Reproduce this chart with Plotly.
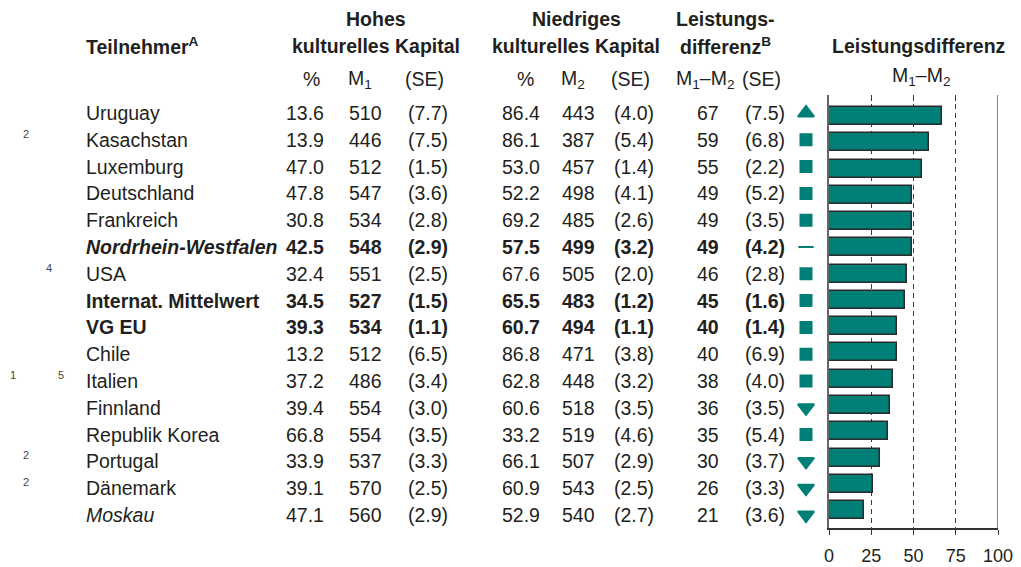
import plotly.graph_objects as go

# ---------------- data ----------------
names = ["Uruguay", "Kasachstan", "Luxemburg", "Deutschland", "Frankreich",
         "Nordrhein-Westfalen", "USA", "Internat. Mittelwert", "VG EU", "Chile",
         "Italien", "Finnland", "Republik Korea", "Portugal", "Dänemark", "Moskau"]
name_style = ["n", "n", "n", "n", "n", "bi", "n", "b", "b", "n",
              "n", "n", "n", "n", "n", "i"]
pct_high = [13.6, 13.9, 47.0, 47.8, 30.8, 42.5, 32.4, 34.5, 39.3, 13.2, 37.2, 39.4, 66.8, 33.9, 39.1, 47.1]
m1 = [510, 446, 512, 547, 534, 548, 551, 527, 534, 512, 486, 554, 554, 537, 570, 560]
se1 = [7.7, 7.5, 1.5, 3.6, 2.8, 2.9, 2.5, 1.5, 1.1, 6.5, 3.4, 3.0, 3.5, 3.3, 2.5, 2.9]
pct_low = [86.4, 86.1, 53.0, 52.2, 69.2, 57.5, 67.6, 65.5, 60.7, 86.8, 62.8, 60.6, 33.2, 66.1, 60.9, 52.9]
m2 = [443, 387, 457, 498, 485, 499, 505, 483, 494, 471, 448, 518, 519, 507, 543, 540]
se2 = [4.0, 5.4, 1.4, 4.1, 2.6, 3.2, 2.0, 1.2, 1.1, 3.8, 3.2, 3.5, 4.6, 2.9, 2.5, 2.7]
diff = [67, 59, 55, 49, 49, 49, 46, 45, 40, 40, 38, 36, 35, 30, 26, 21]
se_diff = [7.5, 6.8, 2.2, 5.2, 3.5, 4.2, 2.8, 1.6, 1.4, 6.9, 4.0, 3.5, 5.4, 3.7, 3.3, 3.6]
significance = ["up", "sq", "sq", "sq", "sq", "ref", "sq", "sq", "sq", "sq",
                "sq", "down", "sq", "down", "down", "down"]
# footnote marks (four slots left of the names)
fn_slot1 = ["", "", "", "", "", "", "", "", "", "", "1", "", "", "", "", ""]
fn_slot2 = ["", "2", "", "", "", "", "", "", "", "", "", "", "", "2", "2", ""]
fn_slot3 = ["", "", "", "", "", "", "4", "", "", "", "", "", "", "", "", ""]
fn_slot4 = ["", "", "", "", "", "", "", "", "", "", "5", "", "", "", "", ""]
axis_ticks = [0, 25, 50, 75, 100]

# ---------------- style ----------------
W, H = 1021, 567
FONT = "Liberation Sans, Arial, sans-serif"
TXT = "#231f20"
TEAL = "#007f77"
FS = 19.5

def px(x):
    return x / W

def py(y):
    return 1 - y / H

rows = list(range(len(names)))

fig = go.Figure()

# bars
fig.add_trace(go.Bar(
    x=diff, y=rows, orientation="h", width=0.685,
    marker=dict(color=TEAL, line=dict(color="#2a2a2a", width=1.5)),
    xaxis="x", yaxis="y", showlegend=False, hoverinfo="skip"))

# significance symbols
sym_map = {"up": "triangle-up", "down": "triangle-down", "sq": "square", "ref": "line-ew"}
size_map = {"up": 14, "down": 14, "sq": 11, "ref": 11}
fig.add_trace(go.Scatter(
    x=[0.5] * len(rows), y=rows, mode="markers",
    marker=dict(symbol=[sym_map[s] for s in significance],
                size=[size_map[s] for s in significance], opacity=1,
                color=TEAL, line=dict(color=TEAL, width=2)),
    xaxis="x3", yaxis="y2", showlegend=False, hoverinfo="skip"))

# top tick marks (overlay axis)
fig.add_trace(go.Scatter(x=[None], y=[None], xaxis="x2", yaxis="y", showlegend=False,
                         hoverinfo="skip"))

ann = []

def add_text(x, y, text, anchor="center", size=FS, yref="y2", yshift=0, color=TXT):
    ann.append(dict(x=x, y=y, xref="paper", yref=yref, text=text, showarrow=False,
                    xanchor=anchor, yanchor="middle", yshift=yshift,
                    font=dict(family=FONT, size=size, color=color)))

col_x = dict(name=84, p1=305, m1=365, s1=428, p2=521, m2=578, s2=634, d=708, sd=765)
fn_x = [13, 26, 49, 61]

for i in rows:
    st = name_style[i]
    nm = names[i]
    if st == "b":
        nm = "<b>" + nm + "</b>"
    elif st == "bi":
        nm = "<b><i>" + nm + "</i></b>"
    elif st == "i":
        nm = "<i>" + nm + "</i>"
    add_text(px(col_x["name"]), i, nm, anchor="left")
    bold = st in ("b", "bi")
    vals = [("p1", f"{pct_high[i]:.1f}"), ("m1", f"{m1[i]}"), ("s1", f"({se1[i]:.1f})"),
            ("p2", f"{pct_low[i]:.1f}"), ("m2", f"{m2[i]}"), ("s2", f"({se2[i]:.1f})"),
            ("d", f"{diff[i]}"), ("sd", f"({se_diff[i]:.1f})")]
    for key, v in vals:
        add_text(px(col_x[key]), i, "<b>" + v + "</b>" if bold else v)
    for slot, lst in enumerate([fn_slot1, fn_slot2, fn_slot3, fn_slot4]):
        if lst[i]:
            add_text(px(fn_x[slot]), i, lst[i], size=11, yshift=6, color="#444")

# headers (paper coords)
def hdr(x, y, text, anchor="center", size=FS):
    ann.append(dict(x=px(x), y=py(y), xref="paper", yref="paper", text=text,
                    showarrow=False, xanchor=anchor, yanchor="middle",
                    font=dict(family=FONT, size=size, color=TXT)))

hdr(84, 46, "<b>Teilnehmer<sup>A</sup></b>", anchor="left")
hdr(376, 19, "<b>Hohes</b>")
hdr(376, 46, "<b>kulturelles Kapital</b>")
hdr(311, 79, "%")
hdr(360, 79, "M<sub>1</sub>")
hdr(424, 79, "(SE)")
hdr(576, 19, "<b>Niedriges</b>")
hdr(576, 46, "<b>kulturelles Kapital</b>")
hdr(525, 79, "%")
hdr(573, 79, "M<sub>2</sub>")
hdr(630, 79, "(SE)")
hdr(725, 19, "<b>Leistungs-</b>")
hdr(725, 46, "<b>differenz<sup>B</sup></b>")
hdr(705, 79, "M<sub>1</sub>–M<sub>2</sub>")
hdr(761, 79, "(SE)")
hdr(919, 46, "<b>Leistungsdifferenz</b>")
hdr(921, 76, "M<sub>1</sub>–M<sub>2</sub>")

# pixel geometry of the bar panel
x_left, x_right = 829, 998
y_top, y_bot = 95, 528
row0, step = 116, 26.27
trow0, tstep = 113, 26.8

fig.update_layout(
    width=W, height=H,
    margin=dict(l=0, r=0, t=0, b=0, pad=0, autoexpand=False),
    paper_bgcolor="white", plot_bgcolor="white",
    showlegend=False,
    bargap=0,
    annotations=ann,
    shapes=[dict(type="line", xref="x", yref="y domain", x0=100, x1=100, y0=0, y1=1,
                 line=dict(color="#555", width=1.5), layer="above")],
    xaxis=dict(domain=[px(x_left), px(x_right)], range=[0, 100], anchor="y",
               tickvals=axis_ticks, ticks="outside", ticklen=5, tickcolor="#333", tickwidth=1.2,
               ticklabelstandoff=6,
               showline=True, linecolor="#333", linewidth=1.5, automargin=False,
               showgrid=True, gridcolor="#3a3a3a", gridwidth=1.2, griddash="5px,4px",
               zeroline=False, tickfont=dict(family=FONT, size=18, color=TXT)),
    xaxis2=dict(overlaying="x", side="top", anchor="y", range=[0, 100], automargin=False,
                tickvals=axis_ticks, ticks="inside", ticklen=6, tickcolor="#333", tickwidth=1.2,
                showticklabels=False, showline=False, showgrid=False, zeroline=False),
    yaxis=dict(domain=[py(y_bot), py(y_top)], automargin=False,
               range=[(y_bot - row0) / step, (y_top - row0) / step], anchor="x",
               showline=True, linecolor="#666", linewidth=2, showticklabels=False,
               ticks="", showgrid=False, zeroline=False),
    xaxis3=dict(domain=[px(786), px(826)], range=[0, 1], anchor="y2", visible=False,
                automargin=False),
    yaxis2=dict(domain=[0, 1], range=[(H - trow0) / tstep, (0 - trow0) / tstep],
                anchor="x3", visible=False, automargin=False),
)

fig.write_html("out.html", config=dict(displayModeBar=False, responsive=False),
               post_script="document.body.style.margin='0';document.body.style.overflow='hidden';")
